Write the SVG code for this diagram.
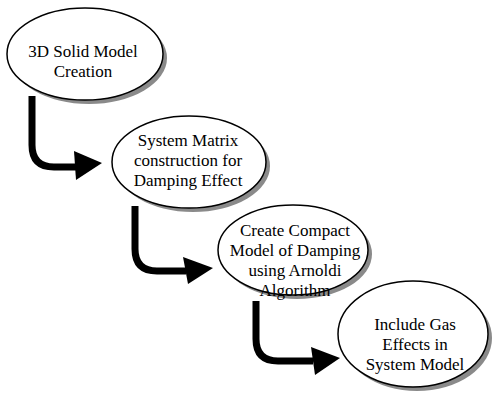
<svg xmlns="http://www.w3.org/2000/svg" width="493" height="397" viewBox="0 0 493 397">
<style>
.sh{fill:#8a8a8a;}
.el{fill:#fff;stroke:#000;stroke-width:1.5;}
.t{font-family:"Liberation Serif","Times New Roman",serif;font-size:17px;fill:#000;text-anchor:middle;}
.ar{fill:none;stroke:#000;stroke-width:7;}
.hd{fill:#000;}
</style>
<rect width="493" height="397" fill="#fff"/>
<g id="connectors">
<path class="ar" d="M32,96 V145 Q32,167 54,167 H76"/>
<polygon class="hd" points="74,151 76,180 102,163"/>
<path class="ar" d="M135,206 V249 Q135,271 157,271 H186"/>
<polygon class="hd" points="183,257 188,284 213,268"/>
<path class="ar" d="M256,301 V339 Q256,361 278,361 H313"/>
<polygon class="hd" points="311,347 315,375 340,358"/>
</g>
<g id="node1">
<ellipse class="sh" cx="89" cy="58" rx="78" ry="46"/>
<ellipse class="el" cx="85" cy="54" rx="78" ry="46"/>
<text class="t" x="83" y="57">3D Solid Model</text>
<text class="t" x="83" y="77">Creation</text>
</g>
<g id="node2">
<ellipse class="sh" cx="193" cy="166" rx="77" ry="46"/>
<ellipse class="el" cx="189" cy="162" rx="77" ry="46"/>
<text class="t" x="188" y="146">System Matrix</text>
<text class="t" x="188" y="166">construction for</text>
<text class="t" x="188" y="186">Damping Effect</text>
</g>
<g id="node3">
<ellipse class="sh" cx="297" cy="254" rx="75" ry="45"/>
<ellipse class="el" cx="293" cy="250" rx="75" ry="45"/>
<text class="t" x="295" y="236">Create Compact</text>
<text class="t" x="295" y="256">Model of Damping</text>
<text class="t" x="295" y="276">using Arnoldi</text>
<text class="t" x="295" y="296">Algorithm</text>
</g>
<g id="node4">
<ellipse class="sh" cx="417" cy="338" rx="75" ry="53"/>
<ellipse class="el" cx="413" cy="334" rx="75" ry="53"/>
<text class="t" x="415" y="330">Include Gas</text>
<text class="t" x="415" y="350">Effects in</text>
<text class="t" x="415" y="370">System Model</text>
</g>
</svg>
